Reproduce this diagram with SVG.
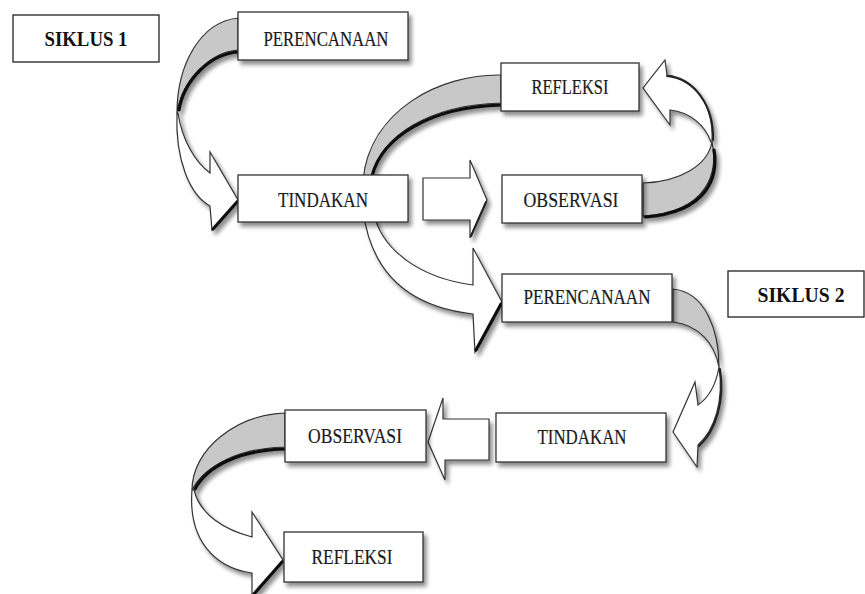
<svg xmlns="http://www.w3.org/2000/svg" width="865" height="594" viewBox="0 0 865 594">
<style>
.box{fill:#fff;stroke:#333;stroke-width:1.3}
.sik{fill:#fff;stroke:#222;stroke-width:1.3}
.lbl{font-family:'Liberation Serif','DejaVu Serif',serif;font-size:21px;fill:#1a1a1a;stroke:#1a1a1a;stroke-width:0.2;text-anchor:middle}
.slbl{font-family:'Liberation Serif','DejaVu Serif',serif;font-size:22px;font-weight:bold;fill:#111;text-anchor:middle}
.grey{fill:#c8c8c8;stroke:#333;stroke-width:1.2;stroke-linejoin:round}
.white{fill:#fff;stroke:#333;stroke-width:1.2;stroke-linejoin:miter}
.thick{fill:none;stroke:#111;stroke-width:3.2;stroke-linecap:round}
.mid{fill:none;stroke:#222;stroke-width:2;stroke-linecap:round}
</style>
<defs>
<filter id="sh" x="-15%" y="-20%" width="135%" height="150%">
<feGaussianBlur in="SourceAlpha" stdDeviation="2"/>
<feOffset dx="3" dy="4" result="o"/>
<feComponentTransfer><feFuncA type="linear" slope="0.45"/></feComponentTransfer>
<feMerge><feMergeNode/><feMergeNode in="SourceGraphic"/></feMerge>
</filter>
</defs>

<g id="connectors">
<g id="c1" filter="url(#sh)">
<path class="grey" d="M238,18 C200,22 177,65 177,113 C182,80 210,52 238,50 Z"/>
<path class="thick" d="M179,110 C184,80 210,54 238,52"/>
<path class="white" d="M177,113 C175,160 190,195 210,206 L212,230 L238,200 L210,152 L210,173 C195,162 182,140 178,113 Z"/>
<path class="thick" d="M213,229 L237,202"/>
</g>
<g id="c2" filter="url(#sh)">
<path class="grey" d="M501,75 C440,74 370,110 363,180 L371,180 C380,135 430,105 501,103 Z"/>
<path class="thick" d="M372,176 C382,137 430,107 501,105"/>
<path class="white" d="M363,210 C372,282 420,308 473,314 L475,352 L502,302 L473,248 L473,285 C420,278 380,250 373,210 Z"/>
<path class="thick" d="M476,350 L501,304"/>
</g>
<g id="c3" filter="url(#sh)">
<path class="white" d="M423,178 L470,178 L470,160 L487,200 L470,238 L470,220 L423,220 Z"/>
<path class="mid" d="M486,202 L471,236"/>
</g>
<g id="c4" filter="url(#sh)">
<path class="grey" d="M643,183 C680,182 708,165 712,142 C718,170 710,212 643,216 Z"/>
<path class="thick" d="M714,150 C718,175 710,212 645,217"/>
<path class="white" d="M712,142 C714,105 695,78 667,75 L665,60 L643,88 L670,125 L670,110 C690,112 705,125 711,142 Z"/>
<path class="mid" d="M667,76 C695,79 714,106 713,140"/>
</g>
<g id="c5" filter="url(#sh)">
<path class="grey" d="M673,289 C705,292 719,330 719,367 C715,345 700,325 673,322 Z"/>
<path class="white" d="M719,367 C724,400 715,430 698,445 L697,467 L673,432 L695,382 L698,405 C708,398 716,385 719,367 Z"/>
<path class="mid" d="M720,369 C725,400 716,431 699,446"/>
</g>
<g id="c6" filter="url(#sh)">
<path class="white" d="M489,419 L443,419 L443,398 L428,442 L445,480 L445,460 L489,460 Z"/>
</g>
<g id="c7" filter="url(#sh)">
<path class="grey" d="M285,413 C235,415 192,450 192,490 C205,465 240,448 285,447 Z"/>
<path class="thick" d="M195,489 C207,466 240,450 285,449"/>
<path class="white" d="M192,490 C188,540 215,568 252,573 L252,597 L283,560 L252,512 L252,537 C225,530 200,515 194,490 Z"/>
<path class="thick" d="M253,595 L282,562"/>
</g>
</g>

<g id="siklus1">
<rect class="sik" x="13" y="15" width="146" height="47"/>
<text class="slbl" x="86" y="46" textLength="83" lengthAdjust="spacingAndGlyphs">SIKLUS 1</text>
</g>
<g id="perencanaan1">
<rect class="box" x="238" y="12" width="170" height="48" filter="url(#sh)"/>
<text class="lbl" x="326" y="46" textLength="125" lengthAdjust="spacingAndGlyphs">PERENCANAAN</text>
</g>
<g id="tindakan1">
<rect class="box" x="238" y="175" width="170" height="47" filter="url(#sh)"/>
<text class="lbl" x="323" y="207" textLength="90" lengthAdjust="spacingAndGlyphs">TINDAKAN</text>
</g>
<g id="refleksi1">
<rect class="box" x="501" y="63" width="138" height="48" filter="url(#sh)"/>
<text class="lbl" x="570" y="94" textLength="77" lengthAdjust="spacingAndGlyphs">REFLEKSI</text>
</g>
<g id="observasi1">
<rect class="box" x="502" y="175" width="140" height="48" filter="url(#sh)"/>
<text class="lbl" x="571" y="207" textLength="95" lengthAdjust="spacingAndGlyphs">OBSERVASI</text>
</g>
<g id="perencanaan2">
<rect class="box" x="502" y="274" width="170" height="48" filter="url(#sh)"/>
<text class="lbl" x="587" y="304" textLength="127" lengthAdjust="spacingAndGlyphs">PERENCANAAN</text>
</g>
<g id="siklus2">
<rect class="sik" x="728" y="271" width="136" height="46"/>
<text class="slbl" x="801" y="302" textLength="87" lengthAdjust="spacingAndGlyphs">SIKLUS 2</text>
</g>
<g id="tindakan2">
<rect class="box" x="496" y="413" width="170" height="49" filter="url(#sh)"/>
<text class="lbl" x="582" y="444" textLength="89" lengthAdjust="spacingAndGlyphs">TINDAKAN</text>
</g>
<g id="observasi2">
<rect class="box" x="285" y="410" width="141" height="52" filter="url(#sh)"/>
<text class="lbl" x="355" y="443" textLength="94" lengthAdjust="spacingAndGlyphs">OBSERVASI</text>
</g>
<g id="refleksi2">
<rect class="box" x="284" y="532" width="139" height="50" filter="url(#sh)"/>
<text class="lbl" x="352" y="564" textLength="81" lengthAdjust="spacingAndGlyphs">REFLEKSI</text>
</g>
</svg>
